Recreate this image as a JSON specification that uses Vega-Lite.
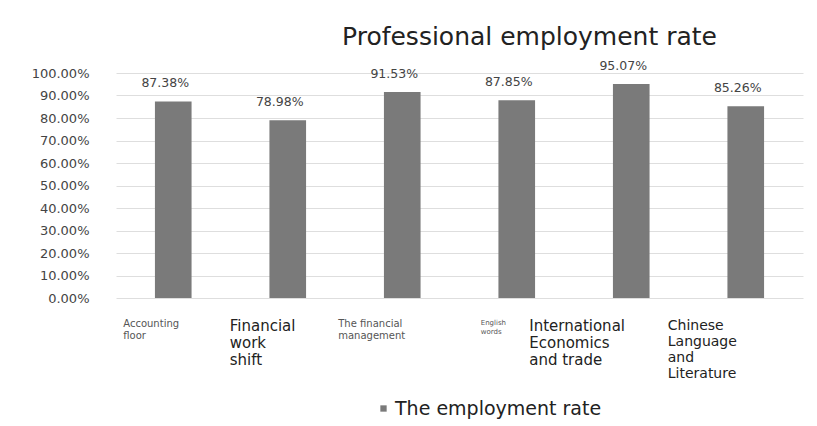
{
  "$schema": "https://vega.github.io/schema/vega-lite/v6.json",
  "autosize": "none",
  "width": 687,
  "height": 225,
  "padding": {"left": 116, "top": 73, "right": 14, "bottom": 128},
  "background": "white",
  "title": {
    "text": "Professional employment rate",
    "fontSize": 25,
    "font": "DejaVu Sans",
    "fontWeight": "normal",
    "color": "#222222",
    "anchor": "middle",
    "dx": 70,
    "offset": 10
  },
  "config": {
    "view": {"stroke": null},
    "font": "DejaVu Sans"
  },
  "data": {
    "values": [
      {"major": "Accounting floor", "rate": 0.8738, "series": "The employment rate"},
      {"major": "Financial work shift", "rate": 0.7898, "series": "The employment rate"},
      {"major": "The financial management", "rate": 0.9153, "series": "The employment rate"},
      {"major": "English words", "rate": 0.8785, "series": "The employment rate"},
      {"major": "International Economics and trade", "rate": 0.9507, "series": "The employment rate"},
      {"major": "Chinese Language and Literature", "rate": 0.8526, "series": "The employment rate"}
    ]
  },
  "encoding": {
    "x": {
      "field": "major",
      "type": "nominal",
      "sort": null,
      "scale": {"paddingInner": 0.68, "paddingOuter": 0.34},
      "axis": {
        "title": null,
        "domain": false,
        "ticks": false,
        "labelAngle": 0,
        "labelAlign": "left",
        "labelBaseline": "top",
        "labelPadding": 20,
        "labelLimit": 200,
        "labelOverlap": false,
        "labelExpr": "datum.label == 'The financial management' ? ['The financial', 'management'] : datum.label == 'International Economics and trade' ? ['International', ' Economics', 'and trade'] : datum.label == 'Financial work shift' ? ['Financial', ' work', 'shift'] : datum.label == 'Accounting floor' ? ['Accounting', ' floor'] : split(datum.label, ' ')",
        "labelFontSize": {
          "condition": [
            {"test": "datum.label == 'Financial work shift' || datum.label == 'International Economics and trade'", "value": 15},
            {"test": "datum.label == 'Chinese Language and Literature'", "value": 14},
            {"test": "datum.label == 'English words'", "value": 7}
          ],
          "value": 10
        },
        "labelColor": {
          "condition": [
            {"test": "datum.label == 'Financial work shift' || datum.label == 'International Economics and trade' || datum.label == 'Chinese Language and Literature'", "value": "#222222"}
          ],
          "value": "#555555"
        },
        "labelOffset": {
          "condition": [
            {"test": "datum.label == 'Accounting floor'", "value": -50},
            {"test": "datum.label == 'Financial work shift'", "value": -58},
            {"test": "datum.label == 'The financial management'", "value": -64},
            {"test": "datum.label == 'English words'", "value": -36},
            {"test": "datum.label == 'International Economics and trade'", "value": -102}
          ],
          "value": -78
        }
      }
    },
    "y": {
      "field": "rate",
      "type": "quantitative",
      "scale": {"domain": [0, 1], "nice": false},
      "axis": {
        "title": null,
        "format": ".2%",
        "tickCount": 11,
        "values": [0, 0.1, 0.2, 0.3, 0.4, 0.5, 0.6, 0.7, 0.8, 0.9, 1.0],
        "labelOverlap": false,
        "domain": false,
        "ticks": false,
        "labelPadding": 27,
        "labelFontSize": 13,
        "labelColor": "#444444",
        "gridColor": "#dedede",
        "gridWidth": 1
      }
    }
  },
  "layer": [
    {
      "mark": {"type": "bar"},
      "encoding": {
        "color": {
          "field": "series",
          "type": "nominal",
          "scale": {"range": ["#7a7a7a"]},
          "legend": {
            "title": null,
            "orient": "none",
            "legendX": 258,
            "legendY": 326,
            "symbolType": "square",
            "symbolSize": 40,
            "labelFontSize": 19,
            "labelLimit": 400,
            "labelColor": "#222222",
            "labelOffset": 2
          }
        }
      }
    },
    {
      "mark": {"type": "text", "baseline": "bottom", "dy": -11, "dx": -8, "fontSize": 12.5, "color": "#444444"},
      "encoding": {
        "text": {"field": "rate", "type": "quantitative", "format": ".2%"}
      }
    }
  ]
}
